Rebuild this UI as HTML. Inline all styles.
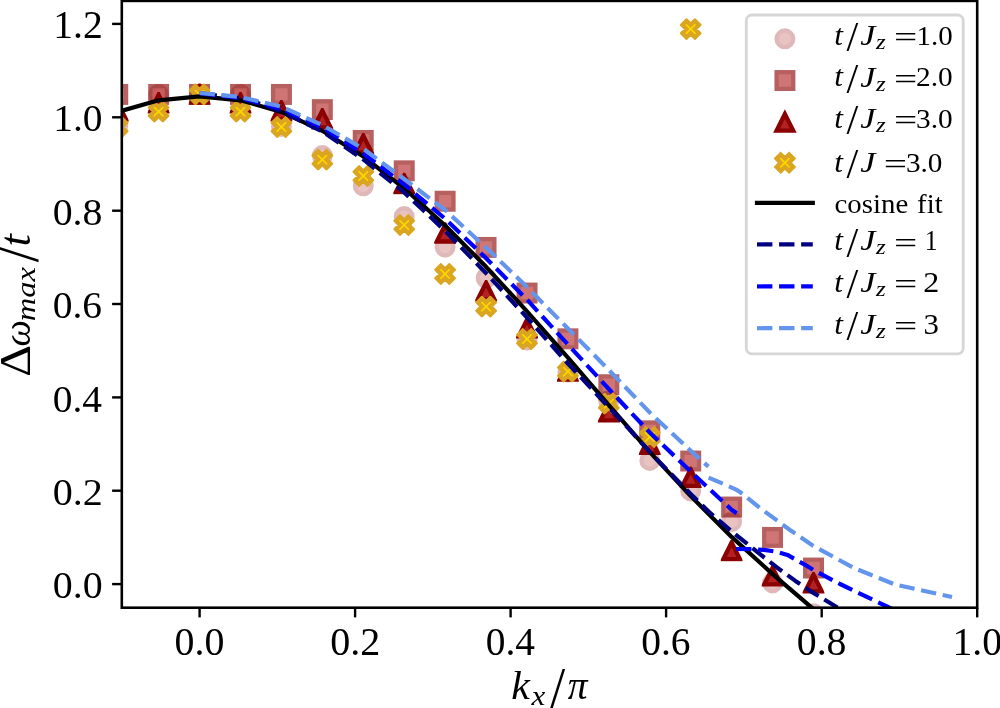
<!DOCTYPE html>
<html><head><meta charset="utf-8"><title>chart</title>
<style>
html,body{margin:0;padding:0;background:#fff;}
svg{display:block;will-change:transform;}
text{font-family:"Liberation Serif",serif;fill:#000;}
.it{font-style:italic;}
.mc{fill:#b22222;stroke:#8b0000;opacity:.27;stroke-width:4.30;}
.ms{fill:#b22222;stroke:#8b0000;opacity:.62;stroke-width:4.30;}
.mt{fill:#b22222;stroke:#8b0000;stroke-width:4.30;stroke-linejoin:miter;}
.mx{fill:#ffd700;stroke:#daa520;stroke-width:4.30;stroke-linejoin:miter;}
.ln{fill:none;stroke-width:4.17;stroke-linejoin:round;}
.ds{stroke-dasharray:15.4 6.67;}
.tk{stroke:#000;stroke-width:2.4;}
</style></head><body>
<svg width="1000" height="708" viewBox="0 0 1000 708">
<rect width="1000" height="708" fill="#fff"/>
<defs><clipPath id="ax"><rect x="121.8" y="0.9" width="855.4" height="606.8"/></clipPath>
<clipPath id="mb"><rect x="-10.95" y="-10.95" width="21.9" height="21.9"/></clipPath>
<g id="mT" clip-path="url(#mb)"><polygon points="0.0,-8.3 -8.3,8.3 8.3,8.3" class="mt"/></g>
<g id="mX" clip-path="url(#mb)"><polygon points="-4.2,-8.3 0.0,-4.2 4.2,-8.3 8.3,-4.2 4.2,0.0 8.3,4.2 4.2,8.3 0.0,4.2 -4.2,8.3 -8.3,4.2 -4.2,0.0 -8.3,-4.2" class="mx"/></g>
</defs>
<g clip-path="url(#ax)">
<circle cx="117.7" cy="126.0" r="8.34" class="mc"/>
<circle cx="158.6" cy="94.4" r="8.34" class="mc"/>
<circle cx="199.6" cy="94.4" r="8.34" class="mc"/>
<circle cx="240.5" cy="94.4" r="8.34" class="mc"/>
<circle cx="281.4" cy="126.4" r="8.34" class="mc"/>
<circle cx="322.3" cy="155.6" r="8.34" class="mc"/>
<circle cx="363.3" cy="185.8" r="8.34" class="mc"/>
<circle cx="404.2" cy="216.6" r="8.34" class="mc"/>
<circle cx="445.1" cy="247.0" r="8.34" class="mc"/>
<circle cx="486.1" cy="278.0" r="8.34" class="mc"/>
<circle cx="527.0" cy="340.0" r="8.34" class="mc"/>
<circle cx="567.9" cy="372.0" r="8.34" class="mc"/>
<circle cx="608.8" cy="401.0" r="8.34" class="mc"/>
<circle cx="649.8" cy="460.4" r="8.34" class="mc"/>
<circle cx="690.7" cy="490.9" r="8.34" class="mc"/>
<circle cx="731.6" cy="521.7" r="8.34" class="mc"/>
<circle cx="772.6" cy="582.9" r="8.34" class="mc"/>
<circle cx="813.5" cy="613.7" r="8.34" class="mc"/>
<rect x="109.4" y="86.1" width="16.67" height="16.67" class="ms"/>
<rect x="150.3" y="86.1" width="16.67" height="16.67" class="ms"/>
<rect x="191.2" y="86.1" width="16.67" height="16.67" class="ms"/>
<rect x="232.2" y="86.1" width="16.67" height="16.67" class="ms"/>
<rect x="273.1" y="86.1" width="16.67" height="16.67" class="ms"/>
<rect x="314.0" y="101.3" width="16.67" height="16.67" class="ms"/>
<rect x="354.9" y="132.1" width="16.67" height="16.67" class="ms"/>
<rect x="395.9" y="162.5" width="16.67" height="16.67" class="ms"/>
<rect x="436.8" y="192.9" width="16.67" height="16.67" class="ms"/>
<rect x="477.7" y="239.1" width="16.67" height="16.67" class="ms"/>
<rect x="518.7" y="284.7" width="16.67" height="16.67" class="ms"/>
<rect x="559.6" y="330.5" width="16.67" height="16.67" class="ms"/>
<rect x="600.5" y="376.4" width="16.67" height="16.67" class="ms"/>
<rect x="641.4" y="422.5" width="16.67" height="16.67" class="ms"/>
<rect x="682.4" y="452.7" width="16.67" height="16.67" class="ms"/>
<rect x="723.3" y="498.7" width="16.67" height="16.67" class="ms"/>
<rect x="764.2" y="529.1" width="16.67" height="16.67" class="ms"/>
<rect x="805.2" y="559.7" width="16.67" height="16.67" class="ms"/>
<use href="#mT" x="117.7" y="111.0"/>
<use href="#mT" x="158.6" y="103.0"/>
<use href="#mT" x="199.6" y="94.4"/>
<use href="#mT" x="240.5" y="103.0"/>
<use href="#mT" x="281.4" y="111.0"/>
<use href="#mT" x="322.3" y="119.0"/>
<use href="#mT" x="363.3" y="144.0"/>
<use href="#mT" x="404.2" y="183.8"/>
<use href="#mT" x="445.1" y="233.2"/>
<use href="#mT" x="486.1" y="291.0"/>
<use href="#mT" x="527.0" y="328.0"/>
<use href="#mT" x="567.9" y="371.4"/>
<use href="#mT" x="608.8" y="412.0"/>
<use href="#mT" x="649.8" y="444.6"/>
<use href="#mT" x="690.7" y="477.5"/>
<use href="#mT" x="731.6" y="550.8"/>
<use href="#mT" x="772.6" y="576.0"/>
<use href="#mT" x="813.5" y="583.0"/>
<use href="#mX" x="117.7" y="127.0"/>
<use href="#mX" x="158.6" y="111.6"/>
<use href="#mX" x="199.6" y="94.4"/>
<use href="#mX" x="240.5" y="111.6"/>
<use href="#mX" x="281.4" y="127.0"/>
<use href="#mX" x="322.3" y="159.6"/>
<use href="#mX" x="363.3" y="176.0"/>
<use href="#mX" x="404.2" y="225.0"/>
<use href="#mX" x="445.1" y="274.0"/>
<use href="#mX" x="486.1" y="306.6"/>
<use href="#mX" x="527.0" y="339.0"/>
<use href="#mX" x="567.9" y="371.6"/>
<use href="#mX" x="608.8" y="403.6"/>
<use href="#mX" x="649.8" y="437.0"/>
<use href="#mX" x="690.7" y="29.1"/>
<polyline class="ln" stroke="#000" stroke-linecap="square" points="76.8,130.8 117.7,111.9 158.6,100.3 199.6,96.4 240.5,100.3 281.4,111.9 322.3,130.8 363.3,156.5 404.2,188.3 445.1,225.5 486.1,266.8 527.0,311.3 567.9,357.7 608.8,405.1 649.8,452.1 690.7,496.1 731.6,536.9 772.6,574.1 813.5,609.2 854.4,645.0"/>
<polyline class="ln ds" stroke="#000080" stroke-dashoffset="-2" points="199.6,93.4 240.5,98.3 261.0,104.0 281.4,111.3 322.3,131.5 363.3,159.5 404.2,192.5 445.1,230.8 486.1,273.2 527.0,317.5 567.9,363.5 608.8,407.2 629.3,429.4 649.8,452.0 690.7,494.0 708.9,511.8 731.6,531.3 760.3,554.4 777.3,567.7 795.4,580.9 813.4,592.9 838.0,607.8 850.0,615.0"/>
<polyline class="ln ds" stroke="#0000ff" points="199.6,93.2 240.5,97.8 281.4,108.6 322.3,127.5 363.3,153.5 404.2,184.5 445.1,218.7 486.1,258.2 527.0,299.6 567.9,344.5 608.8,389.0 649.8,432.5 690.7,471.5 731.6,509.7 736.7,513.3"/>
<polyline class="ln ds" stroke="#0000ff" points="736.0,549.0 752.0,549.2 764.0,549.9 776.0,551.6 787.5,554.9 806.7,565.8 813.4,570.0 840.0,584.0 888.0,607.0 900.0,613.0"/>
<polyline class="ln ds" stroke="#6495ed" points="199.6,93.0 240.5,97.0 281.4,106.6 322.3,125.0 363.3,148.8 404.2,179.0 445.1,210.0 486.1,247.6 527.0,287.0 567.9,328.5 608.8,370.0 649.8,412.5 690.7,450.8 708.4,466.6"/>
<polyline class="ln ds" stroke="#6495ed" points="708.6,477.7 715.8,480.7 727.0,485.4 736.1,489.6 740.0,492.0 760.0,508.0 790.0,530.0 813.4,546.0 854.0,568.0 895.0,584.5 952.0,597.0"/>
</g>
<rect x="121.8" y="0.9" width="855.4" height="606.8" fill="none" stroke="#000" stroke-width="2.6"/>
<line class="tk" x1="199.6" x2="199.6" y1="607.7" y2="617.4"/>
<text font-size="100" transform="matrix(0.3991 0 0 0.3912 174.62 654.61)">0.0</text>
<line class="tk" x1="355.1" x2="355.1" y1="607.7" y2="617.4"/>
<text font-size="100" transform="matrix(0.4009 0 0 0.3912 330.14 654.61)">0.2</text>
<line class="tk" x1="510.6" x2="510.6" y1="607.7" y2="617.4"/>
<text font-size="100" transform="matrix(0.3941 0 0 0.3912 485.69 654.61)">0.4</text>
<line class="tk" x1="666.1" x2="666.1" y1="607.7" y2="617.4"/>
<text font-size="100" transform="matrix(0.3949 0 0 0.3912 641.22 654.61)">0.6</text>
<line class="tk" x1="821.7" x2="821.7" y1="607.7" y2="617.4"/>
<text font-size="100" transform="matrix(0.3983 0 0 0.3912 796.73 654.61)">0.8</text>
<line class="tk" x1="977.2" x2="977.2" y1="607.7" y2="617.4"/>
<text font-size="100" transform="matrix(0.3973 0 0 0.3912 952.47 654.61)">1.0</text>
<line class="tk" x1="112.1" x2="121.8" y1="584.1" y2="584.1"/>
<text font-size="100" transform="matrix(0.3991 0 0 0.3882 52.70 598.22)">0.0</text>
<line class="tk" x1="112.1" x2="121.8" y1="490.7" y2="490.7"/>
<text font-size="100" transform="matrix(0.4009 0 0 0.3882 52.70 504.86)">0.2</text>
<line class="tk" x1="112.1" x2="121.8" y1="397.4" y2="397.4"/>
<text font-size="100" transform="matrix(0.3941 0 0 0.3882 52.72 411.50)">0.4</text>
<line class="tk" x1="112.1" x2="121.8" y1="304.0" y2="304.0"/>
<text font-size="100" transform="matrix(0.3949 0 0 0.3882 52.72 318.14)">0.6</text>
<line class="tk" x1="112.1" x2="121.8" y1="210.7" y2="210.7"/>
<text font-size="100" transform="matrix(0.3983 0 0 0.3882 52.71 224.78)">0.8</text>
<line class="tk" x1="112.1" x2="121.8" y1="117.3" y2="117.3"/>
<text font-size="100" transform="matrix(0.3947 0 0 0.3882 53.25 131.42)">1.0</text>
<line class="tk" x1="112.1" x2="121.8" y1="23.9" y2="23.9"/>
<text font-size="100" transform="matrix(0.3964 0 0 0.3911 53.23 38.05)">1.2</text>
<g id="xlabel">
<text class="it" font-size="100" transform="matrix(0.4186 0 0 0.3971 511.24 698.80)">k</text>
<text class="it" font-size="100" transform="matrix(0.3111 0 0 0.2761 531.47 704.50)">x</text>
<text font-size="100" transform="matrix(0.5455 0 0 0.5910 550.00 708.01)">/</text>
<text class="it" font-size="100" transform="matrix(0.3942 0 0 0.3936 567.80 698.61)">π</text>
</g>
<g id="ylabel" transform="translate(29.6,374.9) rotate(-90)">
<text font-size="100" transform="matrix(0.4991 0 0 0.4333 -2.00 0.00)">Δ</text>
<text class="it" font-size="100" transform="matrix(0.3730 0 0 0.3875 28.39 0.01)">ω</text>
<text class="it" font-size="100" transform="matrix(0.3259 0 0 0.2667 53.56 5.73)">max</text>
<text font-size="100" transform="matrix(0.5564 0 0 0.5821 112.60 8.82)">/</text>
<text class="it" font-size="100" transform="matrix(0.4471 0 0 0.4487 128.39 0.25)">t</text>
</g>
<g id="legend">
<rect x="746.3" y="15" width="216.9" height="338.8" rx="5.5" ry="5.5" fill="#fff" fill-opacity=".8" stroke="#d6d6d6" stroke-width="2.78"/>
<circle cx="784.9" cy="38.8" r="8.34" class="mc"/>
<rect x="776.6" y="72.2" width="16.67" height="16.67" class="ms"/>
<polygon points="784.9,114.0 776.6,130.6 793.2,130.6" class="mt"/>
<polygon points="780.7,154.5 784.9,158.6 789.1,154.5 793.2,158.6 789.1,162.8 793.2,167.0 789.1,171.1 784.9,167.0 780.7,171.1 776.6,167.0 780.7,162.8 776.6,158.6" class="mx"/>
<line class="ln" stroke="#000" stroke-linecap="square" x1="757" x2="812.8" y1="202.8" y2="202.8"/>
<line class="ln ds" stroke="#000080" x1="757" x2="812.8" y1="244.4" y2="244.4"/>
<line class="ln ds" stroke="#0000ff" x1="757" x2="812.8" y1="286.4" y2="286.4"/>
<line class="ln ds" stroke="#6495ed" x1="757" x2="812.8" y1="328.2" y2="328.2"/>
<text class="it" font-size="100" transform="matrix(0.3137 0 0 0.3026 834.29 44.70)">t</text><text font-size="100" transform="matrix(0.4218 0 0 0.4179 846.40 51.18)">/</text><text class="it" font-size="100" transform="matrix(0.3404 0 0 0.2962 860.29 44.90)">J</text><text class="it" font-size="100" transform="matrix(0.2494 0 0 0.2022 875.95 48.90)">z</text><text font-size="100" transform="matrix(0.4129 0 0 0.2880 893.94 47.10)">=</text><text font-size="100" transform="matrix(0.2898 0 0 0.2838 916.44 44.77)">1.0</text>
<text class="it" font-size="100" transform="matrix(0.3137 0 0 0.3026 834.29 86.30)">t</text><text font-size="100" transform="matrix(0.4218 0 0 0.4179 846.40 92.78)">/</text><text class="it" font-size="100" transform="matrix(0.3404 0 0 0.2962 860.29 86.50)">J</text><text class="it" font-size="100" transform="matrix(0.2494 0 0 0.2022 875.95 90.50)">z</text><text font-size="100" transform="matrix(0.4129 0 0 0.2880 893.94 88.70)">=</text><text font-size="100" transform="matrix(0.2936 0 0 0.2838 915.98 86.37)">2.0</text>
<text class="it" font-size="100" transform="matrix(0.3137 0 0 0.3026 834.29 128.00)">t</text><text font-size="100" transform="matrix(0.4218 0 0 0.4179 846.40 134.48)">/</text><text class="it" font-size="100" transform="matrix(0.3404 0 0 0.2962 860.29 128.20)">J</text><text class="it" font-size="100" transform="matrix(0.2494 0 0 0.2022 875.95 132.20)">z</text><text font-size="100" transform="matrix(0.4129 0 0 0.2880 893.94 130.40)">=</text><text font-size="100" transform="matrix(0.2936 0 0 0.2838 915.98 128.07)">3.0</text>
<text class="it" font-size="100" transform="matrix(0.3137 0 0 0.3026 834.29 172.00)">t</text><text font-size="100" transform="matrix(0.4218 0 0 0.4179 846.40 178.48)">/</text><text class="it" font-size="100" transform="matrix(0.3404 0 0 0.2962 860.29 172.20)">J</text><text font-size="100" transform="matrix(0.4129 0 0 0.2880 883.84 174.40)">=</text><text font-size="100" transform="matrix(0.2927 0 0 0.2838 905.88 172.07)">3.0</text>
<text font-size="100" transform="matrix(0.2883 0 0 0.2672 834.55 212.83)">cosine</text>
<text font-size="100" transform="matrix(0.2882 0 0 0.2713 917.04 212.73)">fit</text>
<text class="it" font-size="100" transform="matrix(0.3137 0 0 0.3026 834.29 250.10)">t</text><text font-size="100" transform="matrix(0.4218 0 0 0.4179 846.40 256.58)">/</text><text class="it" font-size="100" transform="matrix(0.3404 0 0 0.2962 860.29 250.30)">J</text><text class="it" font-size="100" transform="matrix(0.2494 0 0 0.2022 875.95 254.30)">z</text><text font-size="100" transform="matrix(0.4129 0 0 0.2880 893.94 252.50)">=</text><text font-size="100" transform="matrix(0.2563 0 0 0.2848 924.72 250.10)">1</text>
<text class="it" font-size="100" transform="matrix(0.3137 0 0 0.3026 834.29 292.00)">t</text><text font-size="100" transform="matrix(0.4218 0 0 0.4179 846.40 298.48)">/</text><text class="it" font-size="100" transform="matrix(0.3404 0 0 0.2962 860.29 292.20)">J</text><text class="it" font-size="100" transform="matrix(0.2494 0 0 0.2022 875.95 296.20)">z</text><text font-size="100" transform="matrix(0.4129 0 0 0.2880 893.94 294.40)">=</text><text font-size="100" transform="matrix(0.3200 0 0 0.2848 923.36 292.00)">2</text>
<text class="it" font-size="100" transform="matrix(0.3137 0 0 0.3026 834.29 333.60)">t</text><text font-size="100" transform="matrix(0.4218 0 0 0.4179 846.40 340.08)">/</text><text class="it" font-size="100" transform="matrix(0.3404 0 0 0.2962 860.29 333.80)">J</text><text class="it" font-size="100" transform="matrix(0.2494 0 0 0.2022 875.95 337.80)">z</text><text font-size="100" transform="matrix(0.4129 0 0 0.2880 893.94 336.00)">=</text><text font-size="100" transform="matrix(0.3084 0 0 0.2881 923.41 333.81)">3</text>
</g>
</svg></body></html>
